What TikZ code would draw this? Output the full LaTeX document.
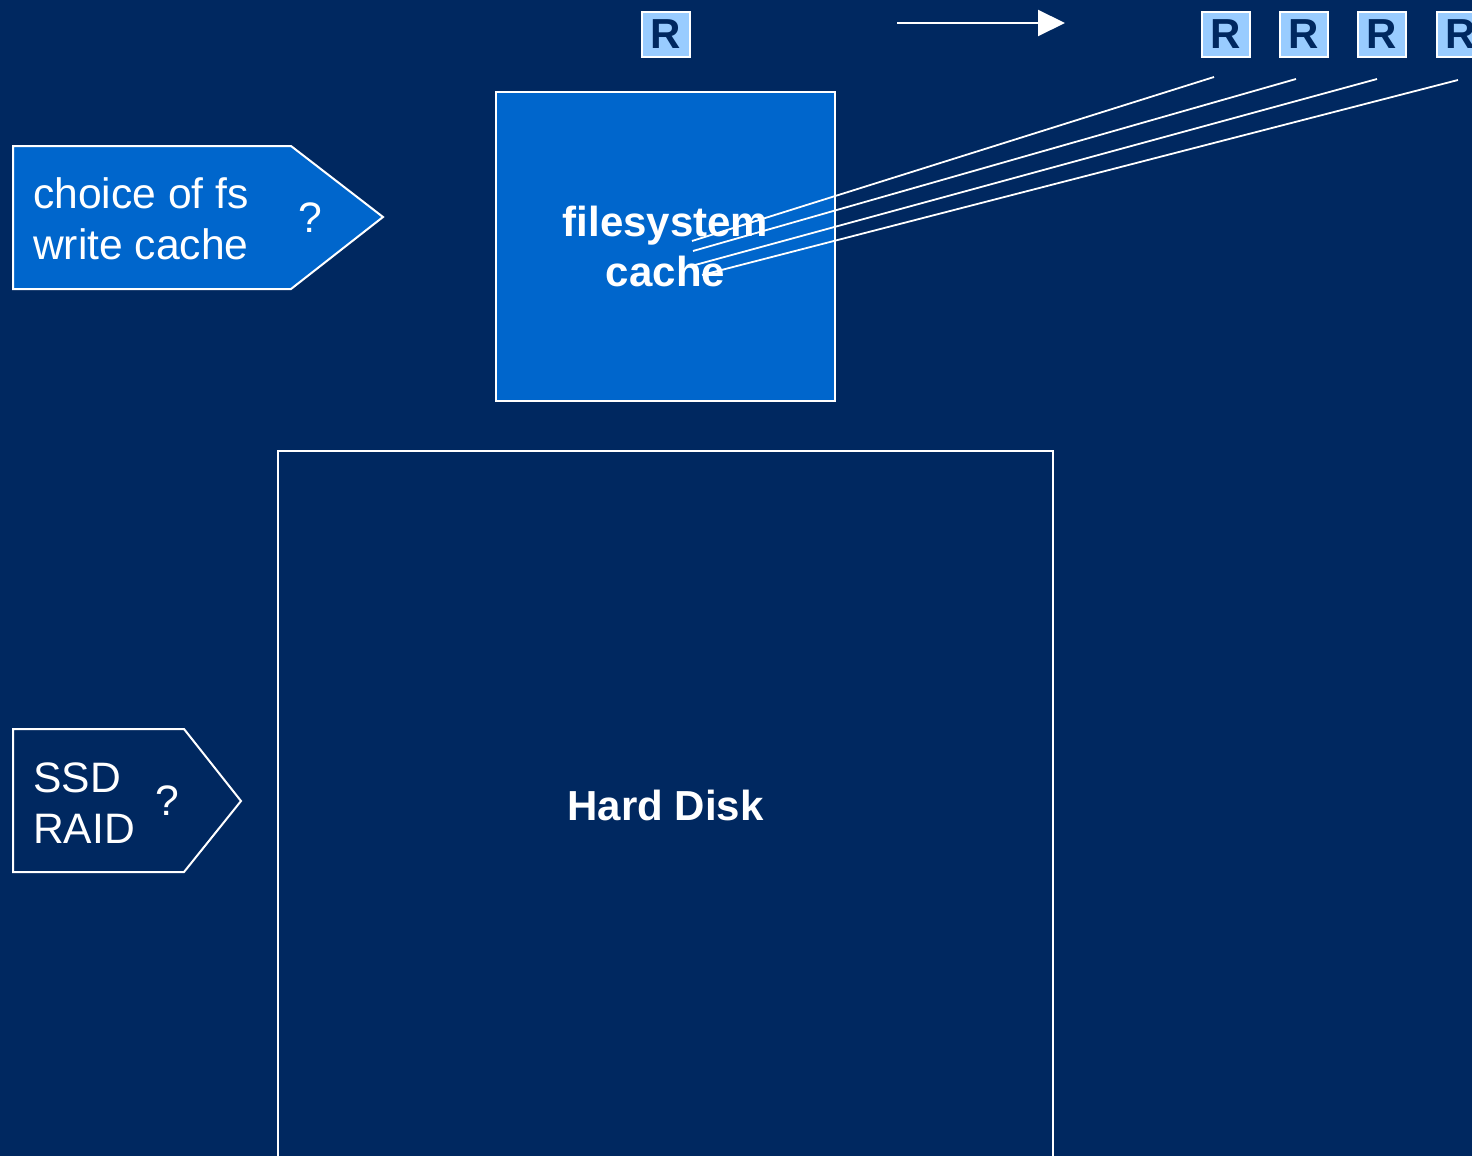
\documentclass[tikz,border=0pt]{standalone}
\usepackage{fontspec}
\setmainfont{Liberation Sans}
\usetikzlibrary{arrows.meta,calc}
\definecolor{bg}{RGB}{0,40,96}
\definecolor{midblue}{RGB}{0,102,204}
\definecolor{lightblue}{RGB}{153,204,255}
\begin{document}
\begin{tikzpicture}[x=1pt,y=-1pt,
  txt/.style={font=\fontsize{42.6}{51}\selectfont, text=white, inner sep=0pt},
  boldtxt/.style={font=\fontsize{42}{50}\selectfont\bfseries, text=white},
  rbox/.style={draw=white, line width=2pt, fill=lightblue, text=bg,
    font=\fontsize{42}{50}\selectfont\bfseries, minimum width=48pt,
    minimum height=45pt, inner sep=0pt},
  bigbox/.style={draw=white, line width=2pt, inner sep=0pt, align=center},
  wline/.style={white, line width=1.8pt},
  pent/.style={draw=white, line width=2pt}]
\fill[bg] (0,0) rectangle (1472,1156);
\useasboundingbox (0,0) rectangle (1472,1156);
\clip (0,0) rectangle (1472,1156);

% left pentagons
\draw[pent, fill=midblue] (13,146) -- (291,146) -- (383,217) -- (291,289) -- (13,289) -- cycle;
\draw[pent, fill=bg] (13,729) -- (184,729) -- (241,801) -- (184,872) -- (13,872) -- cycle;
\node[txt, align=left, anchor=base west] (fschoice) at (33,259) {choice of fs\\write cache};
\node[txt, anchor=base] (q1) at (310,232) {?};
\node[txt, align=left, anchor=base west] (ssd) at (33,843) {SSD\\RAID};
\node[txt, anchor=base] (q2) at (167,815) {?};

% boxes
\node[bigbox, boldtxt, fill=midblue, minimum width=339pt, minimum height=309pt] (cache) at (665.5,246.5) {filesystem\\cache};
\node[bigbox, boldtxt, minimum width=775pt, minimum height=708pt] (disk) at (665.5,805) {Hard Disk};

% R boxes
\node[rbox] (r0) at (665.5,34.5) {R};
\node[rbox] (r1) at (1226,34.5) {R};
\node[rbox] (r2) at (1304,34.5) {R};
\node[rbox] (r3) at (1382,34.5) {R};
\node[rbox] (r4) at (1461,34.5) {R};

% arrow
\coordinate (a1) at (897,23);
\coordinate (a2) at (1065,23);
\draw[white, line width=2pt, -{Triangle[length=27pt,width=26pt]}] (a1) -- (a2);

% lines
\coordinate (s1) at (1214,77);
\coordinate (s2) at (1296,79);
\coordinate (s3) at (1377,79);
\coordinate (s4) at (1458,80);
\coordinate (e1) at (692,241);
\coordinate (e2) at (693,251);
\coordinate (e3) at (695,265);
\coordinate (e4) at (702,275);
\draw[wline] (s1) -- (e1);
\draw[wline] (s2) -- (e2);
\draw[wline] (s3) -- (e3);
\draw[wline] (s4) -- (e4);
\end{tikzpicture}
\end{document}
